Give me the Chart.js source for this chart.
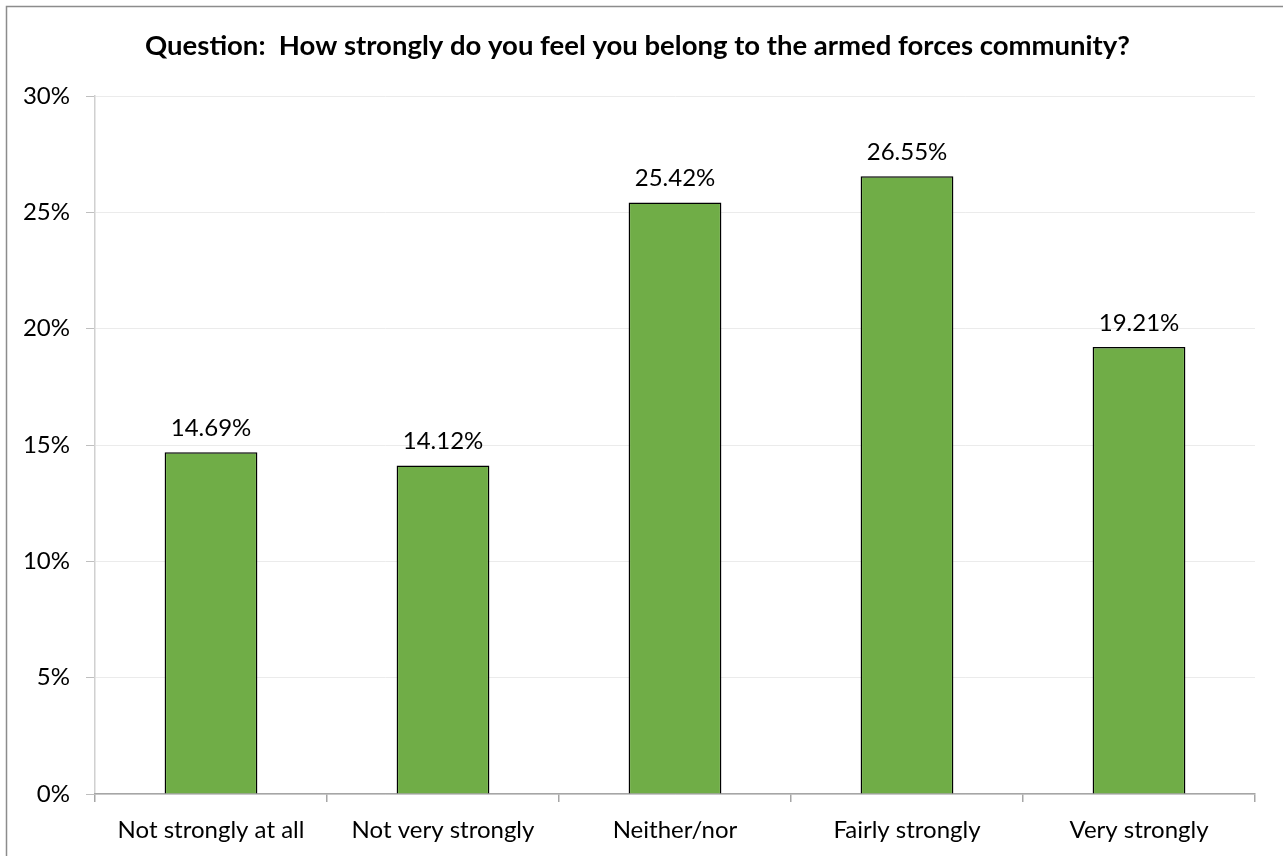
<!DOCTYPE html>
<html>
<head>
<meta charset="utf-8">
<script src="https://cdn.jsdelivr.net/npm/chart.js@4/dist/chart.umd.min.js"></script>
<style>
html,body{margin:0;padding:0;background:#fff;}
#wrap{position:absolute;left:0;top:0;width:1283px;height:856px;}
</style>
</head>
<body>
<div id="wrap"><canvas id="c" width="1283" height="856"></canvas></div>
<script>
const categories = ["Not strongly at all", "Not very strongly", "Neither/nor", "Fairly strongly", "Very strongly"];
const values = [14.69, 14.12, 25.42, 26.55, 19.21];
const titleText = "Question:  How strongly do you feel you belong to the armed forces community?";

const FONT = "Lato, 'Open Sans', 'Liberation Sans', sans-serif";

const frame = {
  id: 'frame',
  beforeDraw(chart) {
    const ctx = chart.ctx;
    ctx.save();
    ctx.fillStyle = '#fff';
    ctx.fillRect(0, 0, chart.width, chart.height);
    ctx.strokeStyle = '#8c8c8c';
    ctx.lineWidth = 1.5;
    ctx.beginPath();
    ctx.moveTo(6.5, chart.height + 5);
    ctx.lineTo(6.5, 6.5);
    ctx.lineTo(chart.width + 5, 6.5);
    ctx.stroke();
    ctx.restore();
  }
};

const labels = {
  id: 'barLabels',
  afterDatasetsDraw(chart) {
    const ctx = chart.ctx;
    const meta = chart.getDatasetMeta(0);
    ctx.save();
    ctx.font = "24px " + FONT;
    ctx.fillStyle = '#000';
    ctx.textAlign = 'center';
    ctx.textBaseline = 'middle';
    meta.data.forEach((bar, i) => {
      ctx.fillText(values[i].toFixed(2) + '%', bar.x, bar.y - 24);
    });
    ctx.restore();
  }
};

new Chart(document.getElementById('c'), {
  type: 'bar',
  data: {
    labels: categories,
    datasets: [{
      data: values,
      backgroundColor: '#70ad47',
      borderColor: '#000',
      borderWidth: 1.5,
      barPercentage: 0.4,
      categoryPercentage: 1.0
    }]
  },
  options: {
    responsive: false,
    animation: false,
    devicePixelRatio: 1,
    layout: { padding: { left: 20, right: 28, top: 0, bottom: 0 } },
    plugins: {
      legend: { display: false },
      tooltip: { enabled: false },
      title: {
        display: true,
        text: titleText,
        color: '#000',
        font: { family: FONT, size: 27.5, weight: 'bold', lineHeight: 1.2 },
        padding: { top: 30, bottom: 33 }
      }
    },
    scales: {
      y: {
        min: 0, max: 30,
        ticks: {
          stepSize: 5,
          callback: v => v + '%',
          color: '#000',
          font: { family: FONT, size: 24 },
          padding: 16
        },
        grid: { color: '#ebebeb', lineWidth: 1, tickColor: '#bfbfbf', tickLength: 9 },
        border: { color: '#d0d0d0', width: 1.5 },
        afterFit: s => { s.width = 75; }
      },
      x: {
        ticks: {
          color: '#000',
          font: { family: FONT, size: 24 },
          padding: 14,
          maxRotation: 0
        },
        grid: { drawOnChartArea: false, offset: true, color: '#a6a6a6', tickColor: '#a6a6a6', tickLength: 8, lineWidth: 1.5 },
        border: { color: '#a6a6a6', width: 1.5 },
        afterFit: s => { s.height = 62; }
      }
    }
  },
  plugins: [frame, labels]
});
</script>
</body>
</html>
